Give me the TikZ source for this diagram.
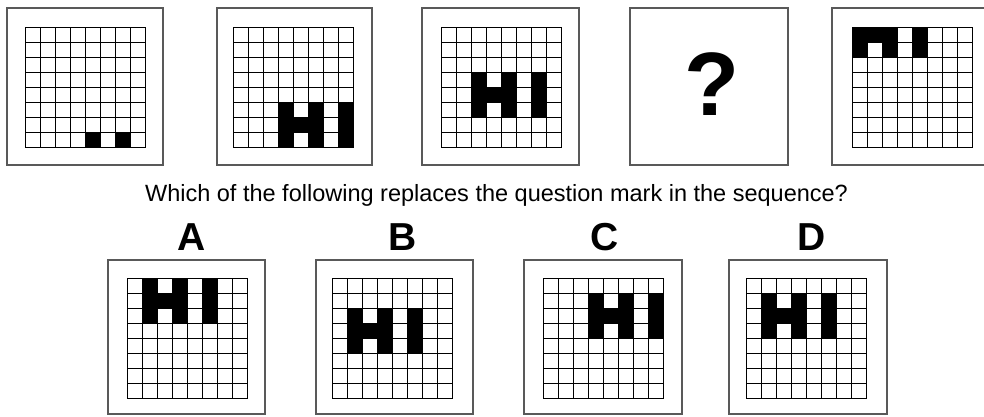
\documentclass[tikz,border=0pt]{standalone}
\usepackage{fontspec}
\setmainfont{Liberation Sans}
\tikzset{
  outerbox/.style={draw=black!65, line width=2pt, fill=none, inner sep=0pt},
  gridline/.style={draw=black, line width=1.4pt},
  gridborder/.style={draw=black, line width=1.6pt},
  optlabel/.style={font=\fontsize{39}{39}\selectfont\bfseries, anchor=base, inner sep=0pt},
}
\newcommand\hiGrid[6]{%
  \pgfmathsetmacro\cw{(#3-#1)/8}%
  \pgfmathsetmacro\ch{(#4-#2)/8}%
  \foreach \i in {1,...,7}{
    \draw[gridline] ({#1+\i*\cw},#2) -- ({#1+\i*\cw},#4);
    \draw[gridline] (#1,{#2+\i*\ch}) -- (#3,{#2+\i*\ch});
  }
  \begin{scope}
    \clip (#1,#2) rectangle (#3,#4);
    \foreach \dx/\dy in {0/0,2/0,4/0,0/1,1/1,2/1,4/1,0/2,2/2,4/2}{
      \fill[black] ({#1+(#5-1+\dx)*\cw-0.5},{#2+(#6-1+\dy)*\ch-0.5}) rectangle ++({\cw+1},{\ch+1});
    }
  \end{scope}
  \draw[gridborder] (#1,#2) rectangle (#3,#4);
}
\begin{document}
\begin{tikzpicture}[x=1pt,y=-1pt]
\clip (0,0) rectangle (984,416);
\fill[white] (0,0) rectangle (984,416);

% top row outer boxes
\node[outerbox, minimum width=156pt, minimum height=157pt] (t1) at (85,86.5) {};
\node[outerbox, minimum width=155pt, minimum height=157pt] (t2) at (294.5,86.5) {};
\node[outerbox, minimum width=157pt, minimum height=157pt] (t3) at (500.5,86.5) {};
\node[outerbox, minimum width=158pt, minimum height=157pt] (t4) at (709,86.5) {};
\node[outerbox, minimum width=158pt, minimum height=157pt] (t5) at (911,86.5) {};

% top row grids
\hiGrid{25.5}{27.5}{145.5}{147.5}{5}{8}
\hiGrid{233.5}{27.5}{353.5}{147.5}{4}{6}
\hiGrid{441.5}{27.5}{561.5}{147.5}{3}{4}
\hiGrid{852.5}{27.5}{972.5}{147.5}{1}{0}

\node[font=\fontsize{90}{90}\selectfont\bfseries, anchor=base, inner sep=0pt] (qm) at (712,115) {?};

\node[font=\fontsize{23.5}{24}\selectfont, anchor=base, inner sep=0pt] (question) at (496.5,201) {Which of the following replaces the question mark in the sequence?};

% option labels
\node[optlabel] (la) at (192,250) {A};
\node[optlabel] (lb) at (403,250) {B};
\node[optlabel] (lc) at (605,250) {C};
\node[optlabel] (ld) at (812,250) {D};

% bottom row outer boxes
\node[outerbox, minimum width=157pt, minimum height=154pt] (oa) at (186.5,337) {};
\node[outerbox, minimum width=157pt, minimum height=154pt] (ob) at (394.5,337) {};
\node[outerbox, minimum width=158pt, minimum height=154pt] (oc) at (603,337) {};
\node[outerbox, minimum width=158pt, minimum height=154pt] (od) at (808,337) {};

% bottom row grids
\hiGrid{127.5}{278.5}{247.5}{398.5}{2}{1}
\hiGrid{332.5}{278.5}{452.5}{398.5}{2}{3}
\hiGrid{543.5}{278.5}{663.5}{398.5}{4}{2}
\hiGrid{746.5}{278.5}{866.5}{398.5}{2}{2}
\end{tikzpicture}
\end{document}
